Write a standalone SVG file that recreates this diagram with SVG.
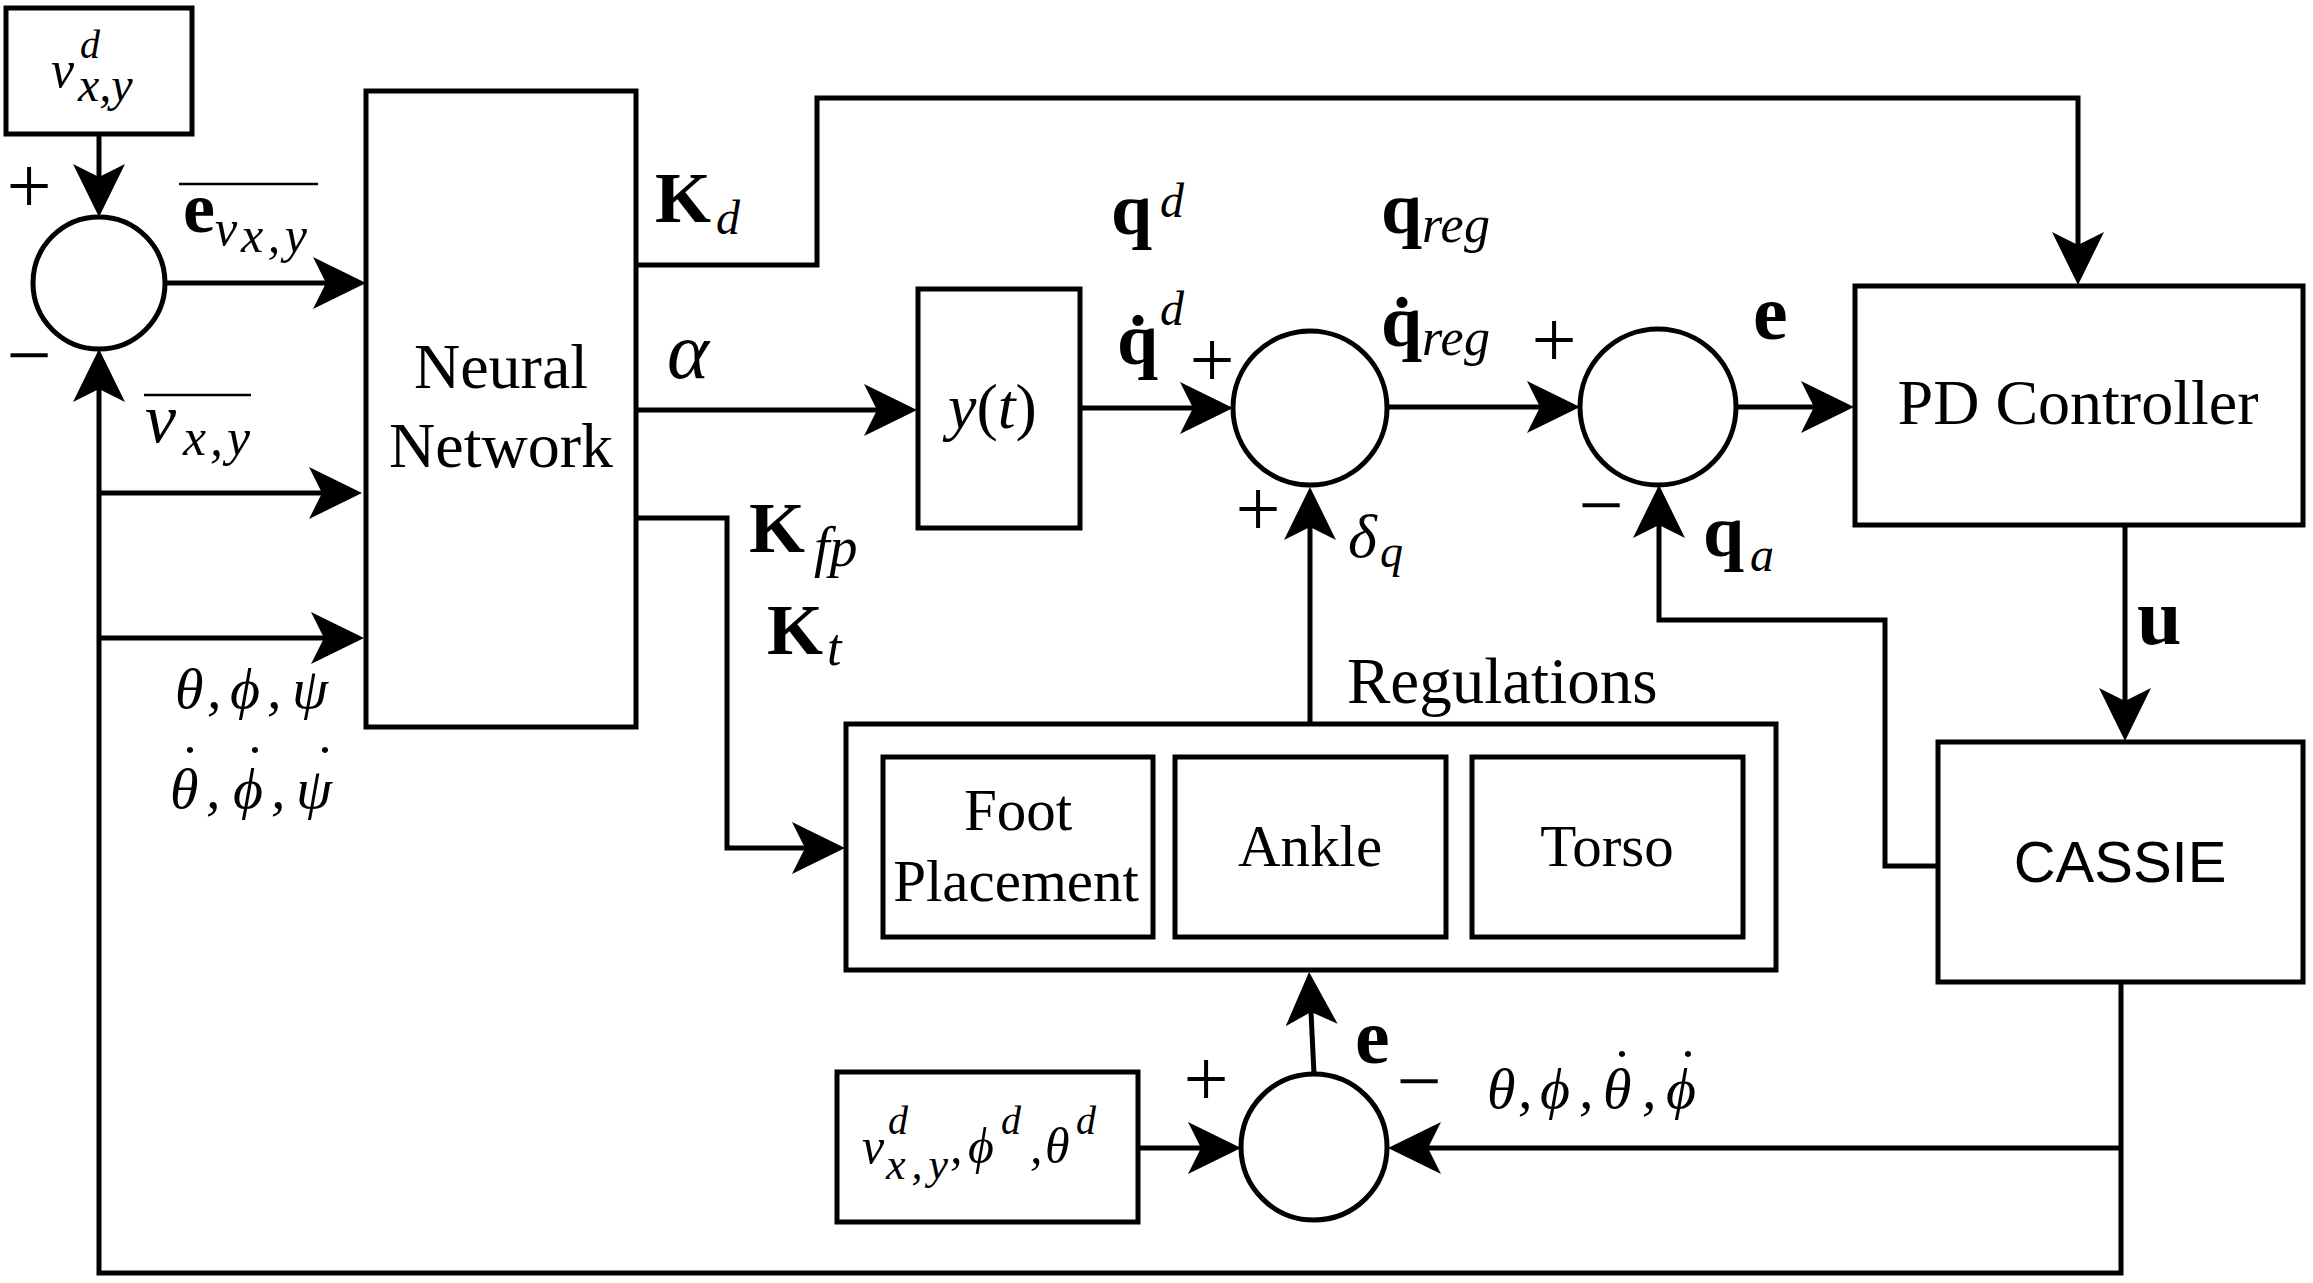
<svg xmlns="http://www.w3.org/2000/svg" width="2313" height="1283" viewBox="0 0 2313 1283">
<defs>
<style>
.bx{fill:#fff;stroke:#000;stroke-width:5}
.ln{fill:none;stroke:#000;stroke-width:5;marker-end:url(#ah)}
.ov{stroke:#000;stroke-width:2.5}
.t{font-family:"Liberation Serif","Times New Roman",serif;fill:#000}
.s{font-family:"Liberation Sans",Arial,sans-serif;fill:#000}
.mi{font-style:italic}
.b{font-weight:bold}
.dot{font-family:"Liberation Serif","Times New Roman",serif;font-size:58px;text-anchor:middle;fill:#000}
.sg{font-family:"Liberation Serif","Times New Roman",serif;font-size:80px;text-anchor:middle;fill:#000}
</style>
<marker id="ah" markerUnits="userSpaceOnUse" markerWidth="54" markerHeight="54" viewBox="0 0 54 54" refX="13" refY="27" orient="auto"><path d="M53,27 L0,1 L13,27 L0,53 Z" fill="#000"/></marker>
</defs>
<rect width="2313" height="1283" fill="#fff"/>

<g id="connectors">
<path class="ln" d="M99,135 V177"/>
<path class="ln" d="M165,283 H326"/>
<path class="ln" d="M2121,982 V1273 H99 V389"/>
<path class="ln" d="M99,493 H322"/>
<path class="ln" d="M99,638 H324"/>
<path class="ln" d="M636,265 H817 V98 H2078 V245"/>
<path class="ln" d="M636,410 H877"/>
<path class="ln" d="M1080,408 H1193"/>
<path class="ln" d="M636,518 H727 V848 H805"/>
<path class="ln" d="M1310,724 V527"/>
<path class="ln" d="M1387,407 H1540"/>
<path class="ln" d="M1736,407 H1814"/>
<path class="ln" d="M2125,525 V701"/>
<path class="ln" d="M1937,866 H1885 V620 H1659 V525"/>
<path class="ln" d="M2121,1148 H1428"/>
<path class="ln" d="M1138,1148 H1201"/>
<path class="ln" d="M1314,1074 L1311,1012"/>
</g>

<g id="vd-input">
<rect class="bx" x="6" y="8" width="186" height="126"/>
<text class="t mi"><tspan x="51" y="87" font-size="52">v</tspan><tspan x="80" y="58" font-size="40">d</tspan><tspan x="78" y="101" font-size="48">x,y</tspan></text>
</g>

<g id="sum1">
<circle class="bx" cx="99" cy="283" r="66"/>
<text class="sg" x="29" y="213">+</text>
<text class="sg" x="29" y="382">−</text>
</g>

<g id="neural-network">
<rect class="bx" x="366" y="91" width="270" height="636"/>
<text class="t" font-size="64" text-anchor="middle"><tspan x="501" y="388">Neural</tspan><tspan x="501" y="467">Network</tspan></text>
</g>

<g id="trajectory">
<rect class="bx" x="918" y="289" width="162" height="239"/>
<text class="t" font-size="64" x="948" y="428"><tspan class="mi">y</tspan>(<tspan class="mi">t</tspan>)</text>
</g>

<g id="sum2">
<circle class="bx" cx="1310" cy="408" r="77"/>
<text class="sg" x="1212" y="387">+</text>
<text class="sg" x="1258" y="536">+</text>
</g>

<g id="sum3">
<circle class="bx" cx="1658" cy="407" r="78"/>
<text class="sg" x="1554" y="367">+</text>
<text class="sg" x="1601" y="532">−</text>
</g>

<g id="pd-controller">
<rect class="bx" x="1855" y="286" width="448" height="239"/>
<text class="t" font-size="64" text-anchor="middle" x="2078" y="424">PD Controller</text>
</g>

<g id="cassie">
<rect class="bx" x="1938" y="742" width="365" height="240"/>
<text class="s" font-size="58" text-anchor="middle" x="2120" y="882">CASSIE</text>
</g>

<g id="regulations">
<rect class="bx" x="846" y="724" width="930" height="246"/>
<text class="t" font-size="65" x="1347" y="703">Regulations</text>
</g>
<g id="foot-placement">
<rect class="bx" x="883" y="757" width="270" height="180"/>
<text class="t" font-size="59" text-anchor="middle"><tspan x="1018" y="830">Foot</tspan><tspan x="1016" y="901">Placement</tspan></text>
</g>
<g id="ankle">
<rect class="bx" x="1175" y="757" width="271" height="180"/>
<text class="t" font-size="59" text-anchor="middle" x="1310" y="866">Ankle</text>
</g>
<g id="torso">
<rect class="bx" x="1472" y="757" width="271" height="180"/>
<text class="t" font-size="59" text-anchor="middle" x="1607" y="866">Torso</text>
</g>

<g id="reg-reference">
<rect class="bx" x="837" y="1072" width="301" height="150"/>
<text class="t mi"><tspan x="862" y="1163" font-size="50">v</tspan><tspan x="888" y="1134" font-size="40">d</tspan><tspan x="886" y="1179" font-size="44" textLength="62">x,y</tspan><tspan x="950" y="1163" font-size="50">,</tspan><tspan x="968" y="1163" font-size="50">ϕ</tspan><tspan x="1001" y="1134" font-size="40">d</tspan><tspan x="1030" y="1163" font-size="50">,</tspan><tspan x="1045" y="1163" font-size="50">θ</tspan><tspan x="1076" y="1134" font-size="40">d</tspan></text>
</g>

<g id="sum4">
<circle class="bx" cx="1314" cy="1147" r="73"/>
<text class="sg" x="1206" y="1106">+</text>
<text class="sg" x="1419" y="1108">−</text>
</g>

<g id="edge-labels">
<line class="ov" x1="179" y1="184" x2="318" y2="184"/>
<text class="t"><tspan class="b" x="183" y="232" font-size="72">e</tspan><tspan class="mi" x="215" y="245" font-size="50">v</tspan><tspan class="mi" x="241" y="252" font-size="50" textLength="66">x,y</tspan></text>
<line class="ov" x1="144" y1="395" x2="251" y2="395"/>
<text class="t mi"><tspan x="145" y="442" font-size="70">v</tspan><tspan x="183" y="455" font-size="52" textLength="67">x,y</tspan></text>

<text class="t mi" font-size="58"><tspan x="175" y="708">θ</tspan><tspan x="207" y="708">,</tspan><tspan x="230" y="708">ϕ</tspan><tspan x="267" y="708">,</tspan><tspan x="292" y="708">ψ</tspan></text>
<text class="t mi" font-size="58"><tspan x="170" y="808">θ</tspan><tspan x="206" y="808">,</tspan><tspan x="233" y="808">ϕ</tspan><tspan x="271" y="808">,</tspan><tspan x="296" y="808">ψ</tspan></text>
<text class="dot" x="190" y="785">˙</text>
<text class="dot" x="255" y="785">˙</text>
<text class="dot" x="325" y="785">˙</text>

<text class="t"><tspan class="b" x="655" y="222" font-size="72">K</tspan><tspan class="mi" x="716" y="234" font-size="48">d</tspan></text>
<text class="t mi" font-size="80" x="667" y="378">α</text>
<text class="t"><tspan class="b" x="749" y="552" font-size="72">K</tspan><tspan class="mi" x="814" y="566" font-size="56">fp</tspan></text>
<text class="t"><tspan class="b" x="767" y="654" font-size="72">K</tspan><tspan class="mi" x="827" y="665" font-size="52">t</tspan></text>
<text class="t"><tspan class="b" x="1111" y="234" font-size="74">q</tspan><tspan class="mi" x="1160" y="217" font-size="48">d</tspan></text>
<text class="t"><tspan class="b" x="1117" y="364" font-size="74">q̇</tspan><tspan class="mi" x="1160" y="325" font-size="48">d</tspan></text>
<text class="t"><tspan class="b" x="1381" y="233" font-size="74">q</tspan><tspan class="mi" x="1422" y="242" font-size="52" textLength="68">reg</tspan></text>
<text class="t"><tspan class="b" x="1381" y="346" font-size="74">q̇</tspan><tspan class="mi" x="1422" y="355" font-size="52" textLength="68">reg</tspan></text>
<text class="t"><tspan class="mi" x="1348" y="557" font-size="62">δ</tspan><tspan class="mi" x="1380" y="567" font-size="46">q</tspan></text>
<text class="t b" font-size="78" x="1753" y="339">e</text>
<text class="t"><tspan class="b" x="1703" y="556" font-size="74">q</tspan><tspan class="mi" x="1750" y="571" font-size="48">a</tspan></text>
<text class="t b" font-size="80" x="2137" y="644">u</text>
<text class="t b" font-size="78" x="1355" y="1063">e</text>

<text class="t mi" font-size="58"><tspan x="1487" y="1108">θ</tspan><tspan x="1518" y="1108">,</tspan><tspan x="1540" y="1108">ϕ</tspan><tspan x="1579" y="1108">,</tspan><tspan x="1603" y="1108">θ</tspan><tspan x="1642" y="1108">,</tspan><tspan x="1666" y="1108">ϕ</tspan></text>
<text class="dot" x="1622" y="1089">˙</text>
<text class="dot" x="1688" y="1089">˙</text>
</g>
</svg>
